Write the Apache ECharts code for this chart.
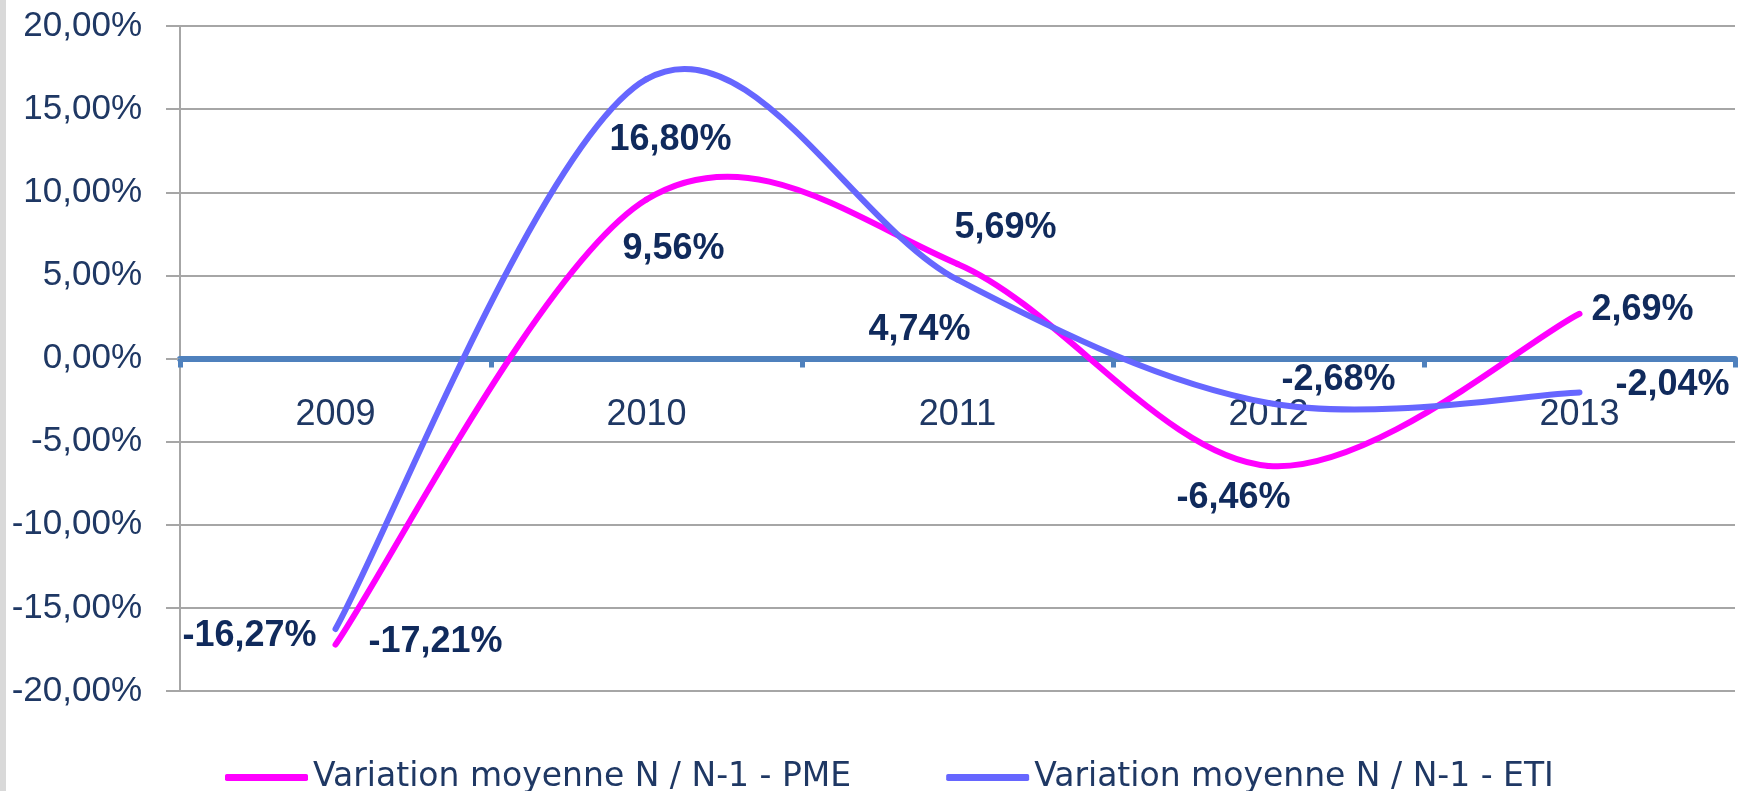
<!DOCTYPE html>
<html>
<head>
<meta charset="utf-8">
<script src="https://cdn.jsdelivr.net/npm/echarts@6/dist/echarts.min.js"></script>
<style>
html,body{margin:0;padding:0;background:#ffffff;}
#chart{width:1746px;height:791px;}
</style>
</head>
<body>
<div id="chart"></div>
<script>
// ---- data ----
const categories = ['2009', '2010', '2011', '2012', '2013'];
const seriesNames = ['Variation moyenne N / N-1 - PME', 'Variation moyenne N / N-1 - ETI'];
const pmeValues = [-17.21, 9.56, 5.69, -6.46, 2.69];
const etiValues = [-16.27, 16.80, 4.74, -2.68, -2.04];
const yMin = -20;
const yMax = 20;
const yStep = 5;

// ---- layout (label placement relative to each point, in px) ----
const pmeLabelOffsets = [[100, -3], [27, 50], [48, -36], [-35, 32], [63, -4]];
const etiLabelOffsets = [[-86, 7], [24, 61], [-38, 50], [70, -23], [93, -7]];

const fmt = v => v.toFixed(2).replace('.', ',') + '%';
const axisTextColor = '#1F3864';
const labelColor = '#102A5C';

// Smoothed line (Excel-like Catmull-Rom, tension 1/6) drawn through the axis scales
function makeRenderItem(values, offsets, color) {
  return function (params, api) {
    const i = params.dataIndex;
    const n = values.length;
    const pt = k => api.coord([Math.max(0, Math.min(n - 1, k)), values[Math.max(0, Math.min(n - 1, k))]]);
    const children = [];
    if (i < n - 1) {
      const p0 = pt(i - 1), p1 = pt(i), p2 = pt(i + 1), p3 = pt(i + 2);
      children.push({
        type: 'bezierCurve',
        shape: {
          x1: p1[0], y1: p1[1],
          cpx1: p1[0] + (p2[0] - p0[0]) / 6, cpy1: p1[1] + (p2[1] - p0[1]) / 6,
          cpx2: p2[0] - (p3[0] - p1[0]) / 6, cpy2: p2[1] - (p3[1] - p1[1]) / 6,
          x2: p2[0], y2: p2[1]
        },
        style: { fill: null, stroke: color, lineWidth: 6, lineCap: 'round' },
        z2: 1
      });
    }
    const p = pt(i);
    children.push({
      type: 'text',
      x: p[0] + offsets[i][0],
      y: p[1] + offsets[i][1],
      style: {
        text: fmt(values[i]),
        fontSize: 36, fontWeight: 'bold', fontFamily: 'Liberation Sans',
        fill: labelColor, align: 'center', verticalAlign: 'middle'
      },
      z2: 10
    });
    return { type: 'group', children: children };
  };
}

const chart = echarts.init(document.getElementById('chart'));
chart.setOption({
  animation: false,
  backgroundColor: '#ffffff',
  textStyle: { fontFamily: 'Liberation Sans' },
  graphic: [{
    type: 'rect', left: 0, top: 0, z: -1,
    shape: { width: 6, height: 791 },
    style: { fill: '#D9D9D9' }
  }],
  grid: { left: 180, right: 11, top: 26, bottom: 100, containLabel: false },
  legend: {
    left: 220, top: 756,
    itemWidth: 83, itemHeight: 7, itemGap: 95,
    icon: 'roundRect',
    textStyle: { fontFamily: 'DejaVu Sans', fontSize: 33, color: axisTextColor },
    data: seriesNames
  },
  xAxis: {
    type: 'category',
    data: categories,
    boundaryGap: true,
    offset: -332.5,
    axisLine: { onZero: false, lineStyle: { color: '#4F81BD', width: 6 } },
    axisTick: { show: true, length: 9, interval: 0, lineStyle: { color: '#4F81BD', width: 5 } },
    axisLabel: { margin: 39, fontSize: 36, color: axisTextColor, fontFamily: 'Liberation Sans' },
    splitLine: { show: false }
  },
  yAxis: {
    type: 'value',
    min: yMin, max: yMax, interval: yStep,
    axisLine: { show: true, onZero: false, lineStyle: { color: '#A6A6A6', width: 2 } },
    axisTick: { show: true, length: 14, lineStyle: { color: '#A6A6A6', width: 2 } },
    axisLabel: { margin: 38, fontSize: 35, color: axisTextColor, formatter: fmt, fontFamily: 'Liberation Sans' },
    splitLine: { show: true, lineStyle: { color: '#A6A6A6', width: 2 } }
  },
  series: [
    {
      name: seriesNames[0],
      type: 'custom',
      coordinateSystem: 'cartesian2d',
      encode: { x: 0, y: 1 },
      data: categories.map((c, i) => [i, pmeValues[i]]),
      itemStyle: { color: '#FF00FF' },
      renderItem: makeRenderItem(pmeValues, pmeLabelOffsets, '#FF00FF'),
      clip: false,
      z: 3
    },
    {
      name: seriesNames[1],
      type: 'custom',
      coordinateSystem: 'cartesian2d',
      encode: { x: 0, y: 1 },
      data: categories.map((c, i) => [i, etiValues[i]]),
      itemStyle: { color: '#6666FF' },
      renderItem: makeRenderItem(etiValues, etiLabelOffsets, '#6666FF'),
      clip: false,
      z: 4
    }
  ]
});
</script>
</body>
</html>
